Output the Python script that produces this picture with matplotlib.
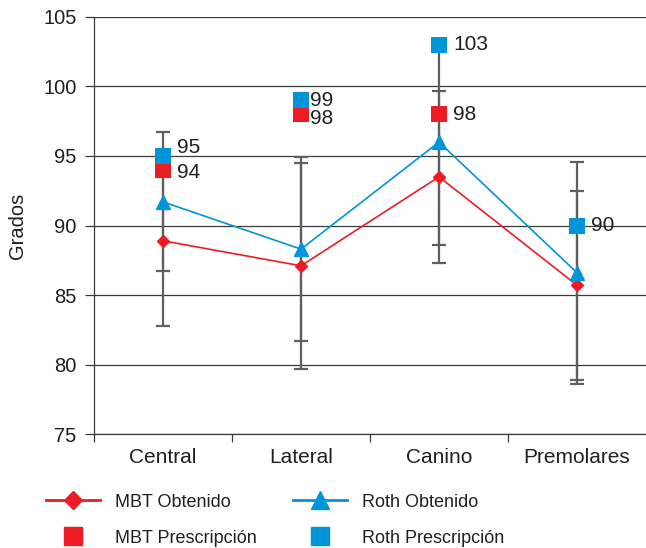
import matplotlib
matplotlib.use("Agg")
import matplotlib.pyplot as plt
from matplotlib.lines import Line2D
import numpy as np

plt.rcParams['font.family'] = ['Liberation Sans', 'DejaVu Sans']

# Datos
categorias = ["Central", "Lateral", "Canino", "Premolares"]
mbt_obtenido = [88.9, 87.1, 93.5, 85.7]
mbt_de = [6.1, 7.4, 6.2, 6.8]
roth_obtenido = [91.7, 88.3, 96.0, 86.6]
roth_de = [5.0, 6.6, 7.4, 8.0]
mbt_prescripcion = [94, 98, 98, 90]
roth_prescripcion = [95, 99, 103, 90]

ROJO = "#ED1C24"
AZUL = "#0095DA"
GRIS = "#5f5f5f"
TEXTO = "#231f20"

fig = plt.figure(figsize=(6.46, 5.48), dpi=100)
ax = fig.add_axes([0.1455, 0.208, 0.8545, 0.761])
x = np.arange(len(categorias))

# Barras de error
ax.errorbar(x, mbt_obtenido, yerr=mbt_de, fmt="none", ecolor=GRIS,
            elinewidth=1.6, capsize=5, capthick=1.6, zorder=2)
ax.errorbar(x, roth_obtenido, yerr=roth_de, fmt="none", ecolor=GRIS,
            elinewidth=1.6, capsize=5, capthick=1.6, zorder=2)

# Series
ax.plot(x, mbt_obtenido, color=ROJO, lw=1.2, marker="D", ms=6.5, zorder=3)
ax.plot(x, roth_obtenido, color=AZUL, lw=1.2, marker="^", ms=10, zorder=3)
ax.plot(x, mbt_prescripcion, ls="none", marker="s", ms=11.5, color=ROJO,
        markeredgewidth=0, zorder=4)
ax.plot(x, roth_prescripcion, ls="none", marker="s", ms=11.5, color=AZUL,
        markeredgewidth=0, zorder=5)

# Etiquetas de valores (pequeños desplazamientos para que no se pisen)
dx = [10, 6.5, 10, 10]
dy_roth = [6, 0, 0, 0]
dy_mbt = [-2, -3, 0, 0]
for i in range(len(categorias)):
    ax.annotate(str(roth_prescripcion[i]), (x[i], roth_prescripcion[i]),
                xytext=(dx[i], dy_roth[i]), textcoords="offset points",
                va="center", ha="left", fontsize=15, color=TEXTO)
    if mbt_prescripcion[i] != roth_prescripcion[i]:
        ax.annotate(str(mbt_prescripcion[i]), (x[i], mbt_prescripcion[i]),
                    xytext=(dx[i], dy_mbt[i]), textcoords="offset points",
                    va="center", ha="left", fontsize=15, color=TEXTO)

# Ejes
ax.set_xlim(-0.5, 3.5)
ax.set_ylim(75, 105)
ax.set_yticks(np.arange(75, 106, 5))
ax.set_xticks(x)
ax.set_xticklabels(categorias)
ax.set_xticks(np.arange(-0.5, 3.0, 1.0), minor=True)
ax.yaxis.grid(True, color="#3a3a3a", lw=0.9)
ax.set_axisbelow(True)
for s in ["top", "right"]:
    ax.spines[s].set_visible(False)
for s in ["left", "bottom"]:
    ax.spines[s].set_color("#3a3a3a")
    ax.spines[s].set_linewidth(0.9)
ax.tick_params(axis="y", length=6.5, width=0.9, color="#3a3a3a", pad=6,
               labelsize=14.5, labelcolor=TEXTO)
ax.tick_params(axis="x", which="major", length=0, pad=10, labelsize=15,
               labelcolor=TEXTO)
ax.tick_params(axis="x", which="minor", length=6, width=0.9, color="#3a3a3a")
ax.set_ylabel("Grados", fontsize=14.5, color=TEXTO)
ax.yaxis.set_label_coords(-0.122, 0.5)

# Leyenda
handles = [
    Line2D([], [], color=ROJO, lw=2, marker="D", ms=9),
    Line2D([], [], ls="none", color=ROJO, marker="s", ms=13),
    Line2D([], [], color=AZUL, lw=2, marker="^", ms=13),
    Line2D([], [], ls="none", color=AZUL, marker="s", ms=13),
]
labels = ["MBT Obtenido", "MBT Prescripción", "Roth Obtenido", "Roth Prescripción"]
fig.legend(handles, labels, loc="upper left", bbox_to_anchor=(0.071, 0.099),
           ncol=2, frameon=False, fontsize=13, handlelength=3.0,
           handletextpad=0.83, columnspacing=2.0, labelspacing=1.05,
           borderpad=0, borderaxespad=0, labelcolor=TEXTO)

fig.savefig("out.png", dpi=100)
